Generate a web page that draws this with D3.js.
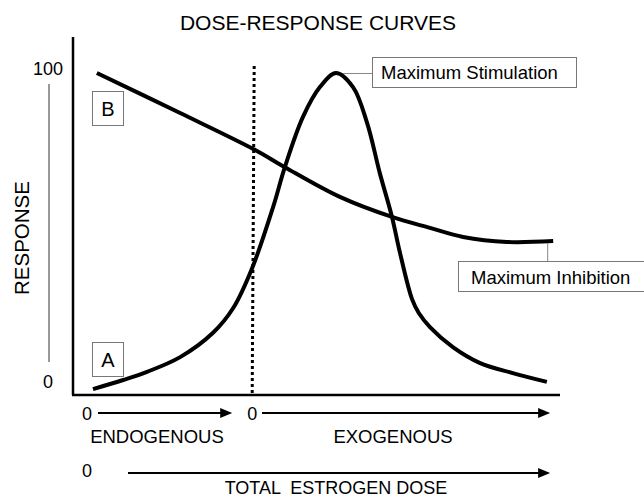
<!DOCTYPE html>
<html>
<head>
<meta charset="utf-8">
<script src="https://cdn.jsdelivr.net/npm/d3@7/dist/d3.min.js"></script>
<style>
  body { margin: 0; background: #fff; }
  svg text { font-family: "Liberation Sans", Arial, Helvetica, sans-serif; fill: #000; }
  .box { fill: #fff; stroke: #777; stroke-width: 1; }
  .connector { stroke: #888; stroke-width: 1; }
</style>
</head>
<body>
<div id="chart"></div>
<script>
// ====== Dose-response curves ======
//
// A = stimulation (bell), B = inhibition (falls to a plateau)

// curve A, dose (0-100) vs response (0-100)
let doseA = [4.1, 10.3, 15.2, 22.0, 28.7, 32.9, 36.8, 41.1, 43.5, 47.2, 50.7,
             54.0, 57.5, 60.4, 63.0, 65.5, 67.1, 69.6, 71.0, 73.3, 78.0, 83.6, 90.3, 97.3];
let respA = [-1.3, 1.6, 4.2, 8.9, 16.6, 24.6, 37.4, 56.9, 69.6, 85.6, 95.2,
             99.7, 95.2, 83.7, 67.7, 53.7, 42.5, 27.5, 23.0, 18.5, 12.1, 7.0, 3.8, 1.0];

// curve B
let doseB = [4.9, 22.0, 37.4, 43.5, 54.8, 65.5, 73.3, 80.1, 89.1, 98.6];
let respB = [99.7, 86.9, 75.1, 69.6, 60.1, 53.7, 50.2, 47.3, 45.7, 46.0];

let yTicks = [0, 100];
let endoStart = 0, exoStart = 37, doseEnd = 99;

let width = 644, height = 497;

let x = d3.scaleLinear().domain([0, 100]).range([73, 560]);
let y = d3.scaleLinear().domain([-3.2, 111.2]).range([395, 37]);

let svg = d3.select("#chart").append("svg")
    .attr("width", width)
    .attr("height", height);

// title
svg.append("text")
    .attr("x", 318)
    .attr("y", 30)
    .attr("text-anchor", "middle")
    .style("font-size", "21px")
    .text("DOSE-RESPONSE CURVES");

// axes
svg.append("line")
    .attr("x1", x(0)).attr("x2", x(0))
    .attr("y1", y.range()[1]).attr("y2", y.range()[0])
    .attr("stroke", "#000").attr("stroke-width", 2.5);
svg.append("line")
    .attr("x1", x(0) - 1).attr("x2", x(100))
    .attr("y1", y.range()[0]).attr("y2", y.range()[0])
    .attr("stroke", "#000").attr("stroke-width", 2.5);

// y tick labels (0 and 100)
svg.append("text")
    .attr("x", 63).attr("y", y(100) + 3)
    .attr("text-anchor", "end")
    .style("font-size", "18px")
    .text(yTicks[1]);
svg.append("text")
    .attr("x", 48).attr("y", y(0) + 3)
    .attr("text-anchor", "middle")
    .style("font-size", "18px")
    .text(yTicks[0]);

// thin line + axis label
svg.append("line")
    .attr("x1", 49).attr("x2", 49)
    .attr("y1", 84).attr("y2", 362)
    .attr("stroke", "#333").attr("stroke-width", 1);
svg.append("text")
    .attr("transform", "translate(29," + 238 + ") rotate(-90)")
    .attr("text-anchor", "middle")
    .style("font-size", "20.5px")
    .text("RESPONSE");

// dotted divider endogenous / exogenous
svg.append("line")
    .attr("x1", x(exoStart) + 1).attr("x2", x(exoStart) - 1)
    .attr("y1", 66).attr("y2", y.range()[0])
    .attr("stroke", "#000")
    .attr("stroke-width", 3)
    .attr("stroke-dasharray", "3,3");

let line = d3.line()
    .x(function(d) { return x(d[0]); })
    .y(function(d) { return y(d[1]); })
    .curve(d3.curveCatmullRom.alpha(0.5));

let dataA = doseA.map(function(d, i) { return [d, respA[i]]; });
let dataB = doseB.map(function(d, i) { return [d, respB[i]]; });

svg.append("path")
    .datum(dataB)
    .attr("d", line)
    .attr("fill", "none")
    .attr("stroke", "#000")
    .attr("stroke-width", 4);

svg.append("path")
    .datum(dataA)
    .attr("d", line)
    .attr("fill", "none")
    .attr("stroke", "#000")
    .attr("stroke-width", 4);

// letter boxes
function letterBox(label, cy) {
    svg.append("rect").attr("class", "box")
        .attr("x", 92.5).attr("y", cy - 17)
        .attr("width", 31).attr("height", 34);
    svg.append("text")
        .attr("x", 108).attr("y", cy + 7)
        .attr("text-anchor", "middle")
        .style("font-size", "20px")
        .text(label);
}
letterBox("B", 108.5);
letterBox("A", 359.5);

// annotation: maximum stimulation
let peakIdx = d3.maxIndex(respA);
svg.append("line").attr("class", "connector")
    .attr("x1", x(doseA[peakIdx]) + 7).attr("x2", 372)
    .attr("y1", y(respA[peakIdx]) + 0.5).attr("y2", y(respA[peakIdx]) + 0.5);
svg.append("rect").attr("class", "box")
    .attr("x", 372.5).attr("y", 57.5)
    .attr("width", 204).attr("height", 30);
svg.append("text")
    .attr("x", 381).attr("y", 79)
    .style("font-size", "18.5px")
    .text("Maximum Stimulation");

// annotation: maximum inhibition
let lastB = dataB[dataB.length - 1];
svg.append("line").attr("class", "connector")
    .attr("x1", x(lastB[0]) - 5.5).attr("x2", x(lastB[0]) - 5.5)
    .attr("y1", y(lastB[1]) + 2).attr("y2", 262);
svg.append("rect").attr("class", "box")
    .attr("x", 458.5).attr("y", 261.5)
    .attr("width", 200).attr("height", 30);
svg.append("text")
    .attr("x", 471).attr("y", 284)
    .style("font-size", "18.5px")
    .text("Maximum Inhibition");

// dose arrows
function arrow(x1, x2, yy) {
    svg.append("line")
        .attr("x1", x1).attr("x2", x2 - 8)
        .attr("y1", yy).attr("y2", yy)
        .attr("stroke", "#000").attr("stroke-width", 2);
    svg.append("path")
        .attr("d", "M" + (x2 - 12) + "," + (yy - 5) + "L" + x2 + "," + yy + "L" + (x2 - 12) + "," + (yy + 5) + "Z")
        .attr("fill", "#000");
}
function zero(xx, yy) {
    svg.append("text")
        .attr("x", xx).attr("y", yy + 6.5)
        .attr("text-anchor", "middle")
        .style("font-size", "18px")
        .text("0");
}

zero(x(endoStart) + 14, 413);
arrow(98, x(exoStart) - 21, 413);
zero(x(exoStart) - 1, 413);
arrow(262, x(doseEnd) - 5, 413);

svg.append("text")
    .attr("x", 157).attr("y", 443)
    .attr("text-anchor", "middle")
    .style("font-size", "18.5px")
    .text("ENDOGENOUS");
svg.append("text")
    .attr("x", 393).attr("y", 443)
    .attr("text-anchor", "middle")
    .style("font-size", "18.5px")
    .text("EXOGENOUS");

zero(x(endoStart) + 14, 470);
arrow(128, x(doseEnd) - 5, 473);

svg.append("text")
    .attr("x", 336).attr("y", 494)
    .attr("text-anchor", "middle")
    .style("font-size", "18px")
    .style("white-space", "pre")
    .text("TOTAL  ESTROGEN DOSE");
</script>
</body>
</html>
